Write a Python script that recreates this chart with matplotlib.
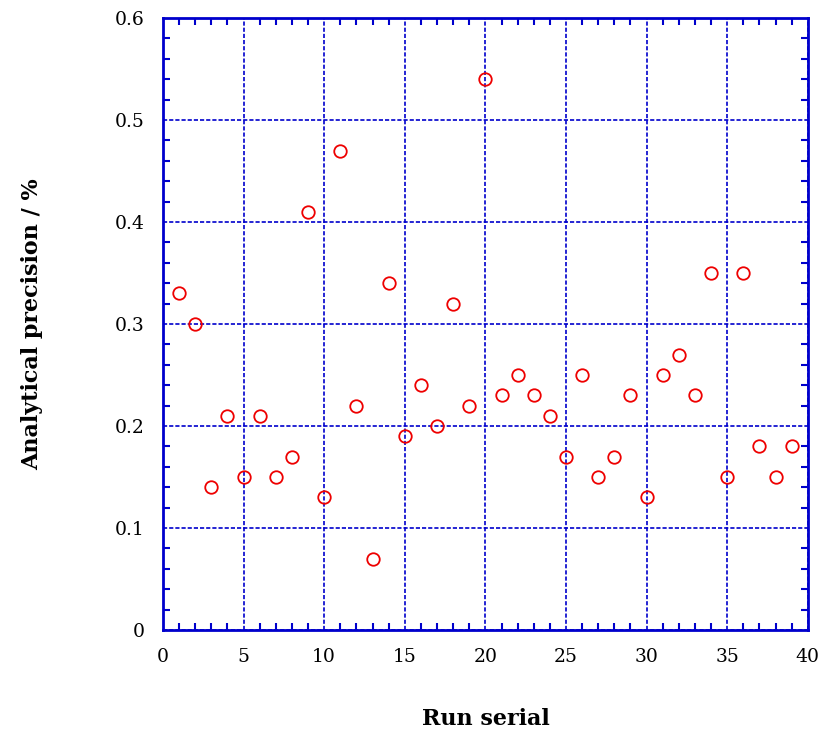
import matplotlib
matplotlib.use("Agg")
import matplotlib.pyplot as plt
from matplotlib.ticker import MultipleLocator

# Analytical precision per run
run_serial = list(range(1, 40))
precision = [0.33, 0.30, 0.14, 0.21, 0.15, 0.21, 0.15, 0.17, 0.41, 0.13,
             0.47, 0.22, 0.07, 0.34, 0.19, 0.24, 0.20, 0.32, 0.22, 0.54,
             0.23, 0.25, 0.23, 0.21, 0.17, 0.25, 0.15, 0.17, 0.23, 0.13,
             0.25, 0.27, 0.23, 0.35, 0.15, 0.35, 0.18, 0.15, 0.18]

x_ticks = [0, 5, 10, 15, 20, 25, 30, 35, 40]
y_ticks = [0, 0.1, 0.2, 0.3, 0.4, 0.5, 0.6]
y_tick_labels = ["0", "0.1", "0.2", "0.3", "0.4", "0.5", "0.6"]

blue = "#0000cc"
plt.rcParams["font.family"] = ["DejaVu Serif"]

fig = plt.figure(figsize=(8.26, 7.36), dpi=100)
ax = fig.add_axes([0.1973, 0.144, 0.7807, 0.8315])

ax.set_xlim(0, 40)
ax.set_ylim(0, 0.6)
ax.set_xticks(x_ticks)
ax.set_yticks(y_ticks)
ax.set_yticklabels(y_tick_labels)
ax.xaxis.set_minor_locator(MultipleLocator(1))
ax.yaxis.set_minor_locator(MultipleLocator(0.02))

ax.grid(True, which="major", color=blue, linestyle=(0, (2.5, 1.2)), linewidth=1.2)
ax.set_axisbelow(True)

ax.plot(run_serial, precision, linestyle="none", marker="o", markersize=9,
        markerfacecolor="none", markeredgecolor="#ee0000", markeredgewidth=1.3,
        zorder=3)

for s in ax.spines.values():
    s.set_color(blue)
    s.set_linewidth(2.0)

ax.tick_params(which="both", direction="in", top=True, right=True, color=blue)
ax.tick_params(which="major", length=0, width=1.5, labelsize=13.5, pad=13)
ax.tick_params(which="minor", length=5, width=1.5)

ax.set_xlabel("Run serial", fontsize=16, fontweight="bold", labelpad=30)
ax.set_ylabel("Analytical precision / %", fontsize=16, fontweight="bold", labelpad=52)

fig.savefig("out.png", dpi=100)
